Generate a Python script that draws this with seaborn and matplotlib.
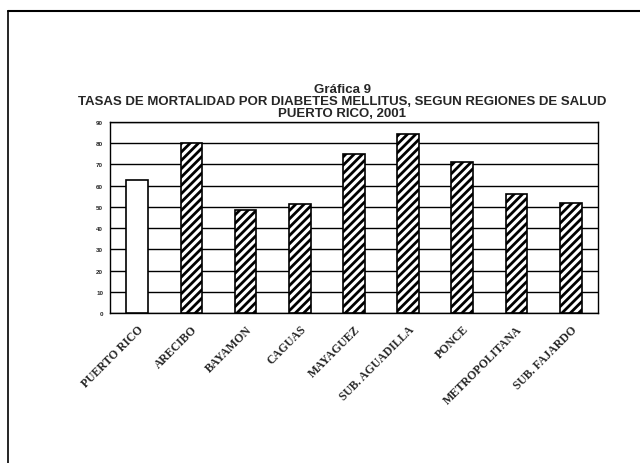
import numpy as np
import pandas as pd
import matplotlib
matplotlib.use("Agg")
import matplotlib.pyplot as plt
import seaborn as sns
from matplotlib.lines import Line2D

# data
regiones = ["PUERTO RICO", "ARECIBO", "BAYAMON", "CAGUAS", "MAYAGUEZ",
            "SUB. AGUADILLA", "PONCE", "METROPOLITANA", "SUB. FAJARDO"]
tasas = [62.5, 80.0, 48.5, 51.5, 75.0, 84.5, 71.3, 56.0, 52.0]
y_ticks = [0, 10, 20, 30, 40, 50, 60, 70, 80, 90]

df = pd.DataFrame({"region": regiones, "tasa": tasas})

sns.set_style("white")
plt.rcParams["hatch.linewidth"] = 2.0
plt.rcParams["font.family"] = ["Liberation Sans", "DejaVu Sans"]

fig = plt.figure(figsize=(6.4, 4.64), dpi=100)
ax = fig.add_axes([0.172, 0.323, 0.762, 0.412])

sns.barplot(data=df, x="region", y="tasa", color="white", width=0.4,
            edgecolor="black", linewidth=1.2, ax=ax, zorder=3)

# hatch every region except the island total
for i, bar in enumerate(ax.patches):
    bar.set_facecolor("white")
    if i > 0:
        bar.set_hatch("////")

ax.set_ylim(0, 90)
ax.set_yticks(y_ticks)
ax.set_yticklabels([str(t) for t in y_ticks], fontsize=4.5, fontweight="bold")
ax.yaxis.grid(True, color="black", linewidth=1.0, zorder=0)
ax.set_axisbelow(True)
for s in ax.spines.values():
    s.set_color("black")
    s.set_linewidth(1.0)

# tick marks between categories
ax.set_xlim(-0.5, len(regiones) - 0.5)
ax.set_xticks(np.arange(len(regiones)))
ax.set_xticklabels(regiones, rotation=45, ha="right", rotation_mode="anchor",
                   fontsize=8.5, fontweight="bold", family="Liberation Serif")
ax.tick_params(axis="x", which="major", length=0, pad=7)
ax.set_xticks(np.arange(len(regiones) + 1) - 0.5, minor=True)
ax.tick_params(axis="x", which="minor", length=4, width=1, direction="out", color="black")
ax.tick_params(axis="y", length=3, width=1, direction="out", color="black", pad=2)
ax.set_xlabel("")
ax.set_ylabel("")

fig.text(0.535, 0.78, "Gráfica 9\nTASAS DE MORTALIDAD POR DIABETES MELLITUS, SEGUN REGIONES DE SALUD\nPUERTO RICO, 2001",
         ha="center", va="center", fontsize=9.5, fontweight="bold", linespacing=1.0)

# page frame
fig.add_artist(Line2D([8 / 640, 8 / 640], [0, 1 - 12 / 464], color="black", lw=1.2))
fig.add_artist(Line2D([8 / 640, 1], [1 - 12 / 464, 1 - 12 / 464], color="black", lw=1.5))

fig.savefig("out.png", dpi=100)
